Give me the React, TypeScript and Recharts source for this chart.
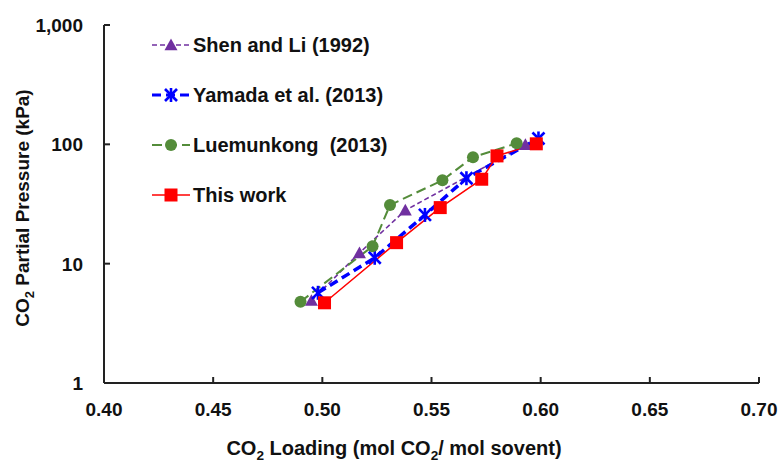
import React from 'react';
import { LineChart, Line, XAxis, YAxis, Legend } from 'recharts';

const loadingShen = [0.495, 0.517, 0.538, 0.593];
const pressureShen = [4.9, 12.3, 28, 99];

const loadingYamada = [0.498, 0.524, 0.547, 0.566, 0.599];
const pressureYamada = [5.7, 11.2, 25.6, 52, 112];

const loadingLuem = [0.49, 0.523, 0.531, 0.555, 0.569, 0.589];
const pressureLuem = [4.8, 14, 31, 50, 78, 102];

const loadingThis = [0.501, 0.534, 0.554, 0.573, 0.58, 0.598];
const pressureThis = [4.7, 15, 29.5, 51, 80, 101];

const xTicks = [0.4, 0.45, 0.5, 0.55, 0.6, 0.65, 0.7];
const yTicks = [1, 10, 100, 1000];

const FONT = '"Liberation Sans", Arial, sans-serif';

const toPoints = (xs: number[], ys: number[]) => xs.map((x, i) => ({ x, y: ys[i] }));

type MarkerKind = 'triangle' | 'star' | 'circle' | 'square';

const series = [
    { name: 'Shen and Li (1992)', data: toPoints(loadingShen, pressureShen), color: '#7030A0', width: 1.6, dash: '5 3', marker: 'triangle' as MarkerKind },
    { name: 'Yamada et al. (2013)', data: toPoints(loadingYamada, pressureYamada), color: '#0000FF', width: 3.5, dash: '9 5', marker: 'star' as MarkerKind },
    { name: 'Luemunkong  (2013)', data: toPoints(loadingLuem, pressureLuem), color: '#548C3A', width: 2, dash: '10 5', marker: 'circle' as MarkerKind },
    { name: 'This work', data: toPoints(loadingThis, pressureThis), color: '#FF0000', width: 1.5, dash: undefined, marker: 'square' as MarkerKind },
];

function Marker({ cx, cy, kind, color }: { cx: number; cy: number; kind: MarkerKind; color: string }) {
    if (kind === 'triangle') {
        const s = 6.5;
        return <polygon points={`${cx},${cy - s} ${cx + s},${cy + s * 0.8} ${cx - s},${cy + s * 0.8}`} fill={color} />;
    }
    if (kind === 'star') {
        const s = 6;
        return (
            <g stroke={color} strokeWidth={2.6}>
                <line x1={cx - s} y1={cy - s} x2={cx + s} y2={cy + s} />
                <line x1={cx - s} y1={cy + s} x2={cx + s} y2={cy - s} />
                <line x1={cx} y1={cy - s - 1} x2={cx} y2={cy + s + 1} />
            </g>
        );
    }
    if (kind === 'circle') {
        return <circle cx={cx} cy={cy} r={6} fill={color} />;
    }
    return <rect x={cx - 6.5} y={cy - 6.5} width={13} height={13} fill={color} />;
}

// eslint-disable-next-line @typescript-eslint/no-explicit-any
const XTick = (props: any) => {
    const { x, y, payload } = props;
    return (
        <g>
            <line x1={x} x2={x} y1={y} y2={y - 6} stroke="#222" strokeWidth={2} />
            <text x={x} y={y + 33} textAnchor="middle" fontSize={19} fontWeight="bold" fill="#111" fontFamily={FONT}>
                {Number(payload.value).toFixed(2)}
            </text>
        </g>
    );
};

// eslint-disable-next-line @typescript-eslint/no-explicit-any
const YTick = (props: any) => {
    const { x, y, payload } = props;
    return (
        <g>
            <line x1={x} x2={x + 6} y1={y} y2={y} stroke="#222" strokeWidth={2} />
            <text x={x - 21} y={y + 7} textAnchor="end" fontSize={19} fontWeight="bold" fill="#111" fontFamily={FONT}>
                {Number(payload.value).toLocaleString('en-US')}
            </text>
        </g>
    );
};

const XTitle = () => (
    <text x={394} y={455} textAnchor="middle" fontSize={20} fontWeight="bold" fill="#111" fontFamily={FONT}>
        CO
        <tspan fontSize="0.68em" dy={5}>2</tspan>
        <tspan dy={-5}> Loading (mol CO</tspan>
        <tspan fontSize="0.68em" dy={5}>2</tspan>
        <tspan dy={-5}>/ mol sovent)</tspan>
    </text>
);

const YTitle = () => (
    <text x={22} y={208} transform="rotate(-90 22 208)" dy={7} textAnchor="middle" fontSize={19} fontWeight="bold" fill="#111" fontFamily={FONT}>
        CO
        <tspan fontSize="0.68em" dy={5}>2</tspan>
        <tspan dy={-5}> Partial Pressure (kPa)</tspan>
    </text>
);

const LegendBox = () => (
    <div style={{ fontFamily: FONT }}>
        {series.map((s) => (
            <div key={s.name} style={{ display: 'flex', alignItems: 'center', height: 50 }}>
                <svg width={45} height={20}>
                    <line x1={4} x2={42} y1={10} y2={10} stroke={s.color} strokeWidth={Math.min(s.width, 3)} strokeDasharray={s.dash} />
                    <Marker cx={23} cy={10} kind={s.marker} color={s.color} />
                </svg>
                <span style={{ fontSize: 20, fontWeight: 'bold', color: '#111', whiteSpace: 'pre' }}>{s.name}</span>
            </div>
        ))}
    </div>
);

export default function App() {
    return (
        <div style={{ position: 'absolute', left: 0, top: 0, width: 780, height: 463, background: '#fff' }}>
            <LineChart width={780} height={463} margin={{ top: 25, right: 21, bottom: 8, left: 8 }}>
                <XAxis
                    dataKey="x"
                    type="number"
                    domain={[0.4, 0.7]}
                    ticks={xTicks}
                    allowDataOverflow
                    height={72}
                    tickSize={0}
                    tickMargin={0}
                    tick={<XTick />}
                    axisLine={{ stroke: '#222', strokeWidth: 2 }}
                    tickLine={false}
                    label={{ content: () => <XTitle /> }}
                />
                <YAxis
                    dataKey="y"
                    type="number"
                    scale="log"
                    domain={[1, 1000]}
                    ticks={yTicks}
                    allowDataOverflow
                    width={96}
                    tickSize={0}
                    tickMargin={0}
                    tick={<YTick />}
                    axisLine={{ stroke: '#222', strokeWidth: 2 }}
                    tickLine={false}
                    label={{ content: () => <YTitle /> }}
                />
                <Legend
                    layout="vertical"
                    align="center"
                    verticalAlign="middle"
                    content={<LegendBox />}
                    wrapperStyle={{ left: 148, top: 20, width: 300 }}
                />
                {series.map((s) => (
                    <Line
                        key={s.name}
                        name={s.name}
                        data={s.data}
                        dataKey="y"
                        stroke={s.color}
                        strokeWidth={s.width}
                        strokeDasharray={s.dash}
                        isAnimationActive={false}
                        // eslint-disable-next-line @typescript-eslint/no-explicit-any
                        dot={(p: any) => <Marker key={`${s.name}-${p.index}`} cx={p.cx} cy={p.cy} kind={s.marker} color={s.color} />}
                        activeDot={false}
                    />
                ))}
            </LineChart>
        </div>
    );
}
